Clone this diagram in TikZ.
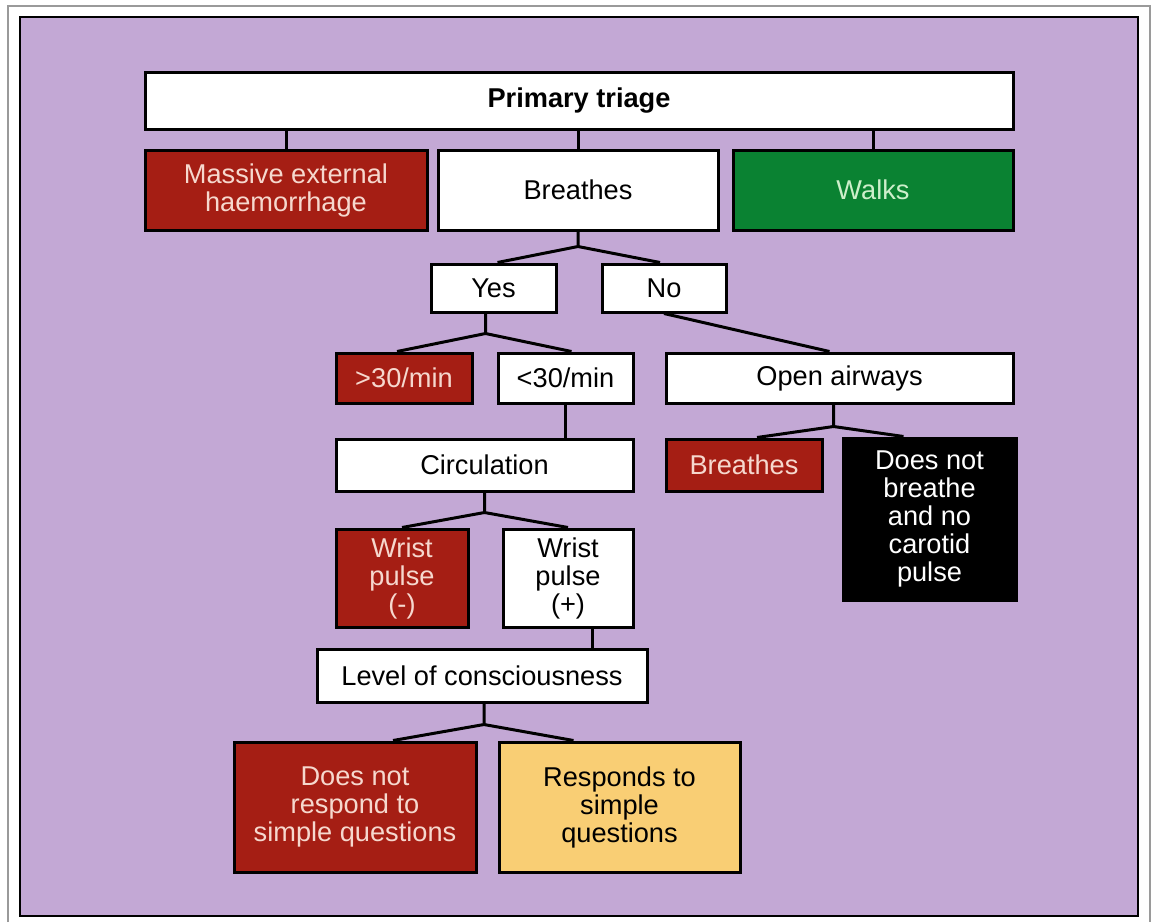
\documentclass[tikz,border=0pt]{standalone}
\usepackage{fontspec}
\setmainfont{Liberation Sans}
\usepackage{tikz}
\usetikzlibrary{calc,positioning}
\definecolor{panel}{HTML}{C3A8D5}
\definecolor{tagred}{HTML}{A51E14}
\definecolor{tagredtext}{HTML}{F6D8CE}
\definecolor{taggreen}{HTML}{0A8232}
\definecolor{taggreentext}{HTML}{CDEFCB}
\definecolor{tagyellow}{HTML}{F9CE74}
\definecolor{framegray}{HTML}{9A9A9A}

\begin{document}
\begin{tikzpicture}[x=0.5pt,y=-0.5pt,
  box/.style={draw=black,line width=1.5pt,fill=white,inner sep=0pt,align=center,
    font=\fontsize{13.6}{14}\selectfont},
  redbox/.style={box,fill=tagred,text=tagredtext},
  link/.style={line width=1.5pt}]
  % page and panel
  \useasboundingbox[fill=white] (0,0) rectangle (1155,922);
  \draw[framegray,line width=1.3pt] (8,922) -- (8,6) -- (1150,6) -- (1150,922);
  \draw[fill=panel,line width=1pt] (20,17) rectangle (1138,916);

  % first level
  \node[box,minimum width=434pt,minimum height=28.5pt] (triage) at (579,100.5) {\textbf{Primary triage}};
  \node[redbox,minimum width=141pt,minimum height=40pt] (bleed) at (286,190) {Massive external\\haemorrhage};
  \node[box,minimum width=140pt,minimum height=40pt] (breathe) at (578,190) {Breathes};
  \node[box,fill=taggreen,text=taggreentext,minimum width=140pt,minimum height=40pt] (walk) at (873,190) {Walks};

  % breathing
  \node[box,minimum width=62.5pt,minimum height=24pt] (yes) at (493.5,288) {Yes};
  \node[box,minimum width=62pt,minimum height=24pt] (no) at (664,288) {No};
  \node[redbox,minimum width=68pt,minimum height=25pt] (fast) at (404,378) {>30/min};
  \node[box,minimum width=67.5pt,minimum height=25pt] (slow) at (565.5,378) {<30/min};
  \node[box,minimum width=173.5pt,minimum height=25pt] (airway) at (839.5,378) {Open airways};
  \node[box,minimum width=148.5pt,minimum height=26pt] (circ) at (484.5,465) {Circulation};
  \node[redbox,minimum width=78pt,minimum height=26pt] (breath2) at (744,465) {Breathes};
  \node[box,fill=black,text=white,minimum width=86.5pt,minimum height=81pt] (dead) at (929.5,519)
    {Does not\\breathe\\and no\\carotid\\pulse};

  % circulation and consciousness
  \node[redbox,minimum width=66pt,minimum height=49pt] (wristneg) at (402,578) {Wrist\\pulse\\(-)};
  \node[box,minimum width=65pt,minimum height=49pt] (wristpos) at (568,578) {Wrist\\pulse\\(+)};
  \node[box,minimum width=165pt,minimum height=26.5pt] (conscious) at (482,675.5) {Level of consciousness};
  \node[redbox,minimum width=121pt,minimum height=65pt] (noresp) at (355,807)
    {Does not\\respond to\\simple questions};
  \node[box,fill=tagyellow,minimum width=120.5pt,minimum height=65pt] (resp) at (619.5,807)
    {Responds to\\simple\\questions};

  % connectors
  \draw[link] (bleed.north) -- (bleed.north |- triage.south);
  \draw[link] (breathe.north) -- (breathe.north |- triage.south);
  \draw[link] (walk.north) -- (walk.north |- triage.south);

  \coordinate (jbreathe) at ($(breathe.south)+(0,15)$);
  \draw[link] (breathe.south) -- (jbreathe) -- ($(yes.north)+(4,0)$);
  \draw[link] (jbreathe) -- ($(no.north)+(-4,0)$);

  \coordinate (yesfoot) at ($(yes.south)+(-8,0)$);
  \coordinate (jyes) at ($(yesfoot)+(0,20)$);
  \draw[link] (yesfoot) -- (jyes) -- ($(fast.north)+(-7,0)$);
  \draw[link] (jyes) -- ($(slow.north)+(6,0)$);
  \draw[link] (no.south) -- ($(airway.north)+(-10,0)$);
  \draw[link] (slow.south) -- (slow.south |- circ.north);

  \coordinate (airfoot) at ($(airway.south)+(-6,0)$);
  \coordinate (jairway) at ($(airfoot)+(0,22)$);
  \draw[link] (airfoot) -- (jairway) -- ($(breath2.north)+(13,0)$);
  \draw[link] (jairway) -- ($(dead.north)+(-26,0)$);

  \coordinate (jcirc) at ($(circ.south)+(0,20)$);
  \draw[link] (circ.south) -- (jcirc) -- (wristneg.north);
  \draw[link] (jcirc) -- (wristpos.north);

  \coordinate (posfoot) at ($(wristpos.south)+(24,0)$);
  \draw[link] (posfoot) -- (posfoot |- conscious.north);

  \coordinate (consfoot) at ($(conscious.south)+(2,0)$);
  \coordinate (jcons) at ($(consfoot)+(0,21)$);
  \draw[link] (consfoot) -- (jcons) -- ($(noresp.north)+(38,0)$);
  \draw[link] (jcons) -- ($(resp.north)+(-46,0)$);
\end{tikzpicture}
\end{document}
